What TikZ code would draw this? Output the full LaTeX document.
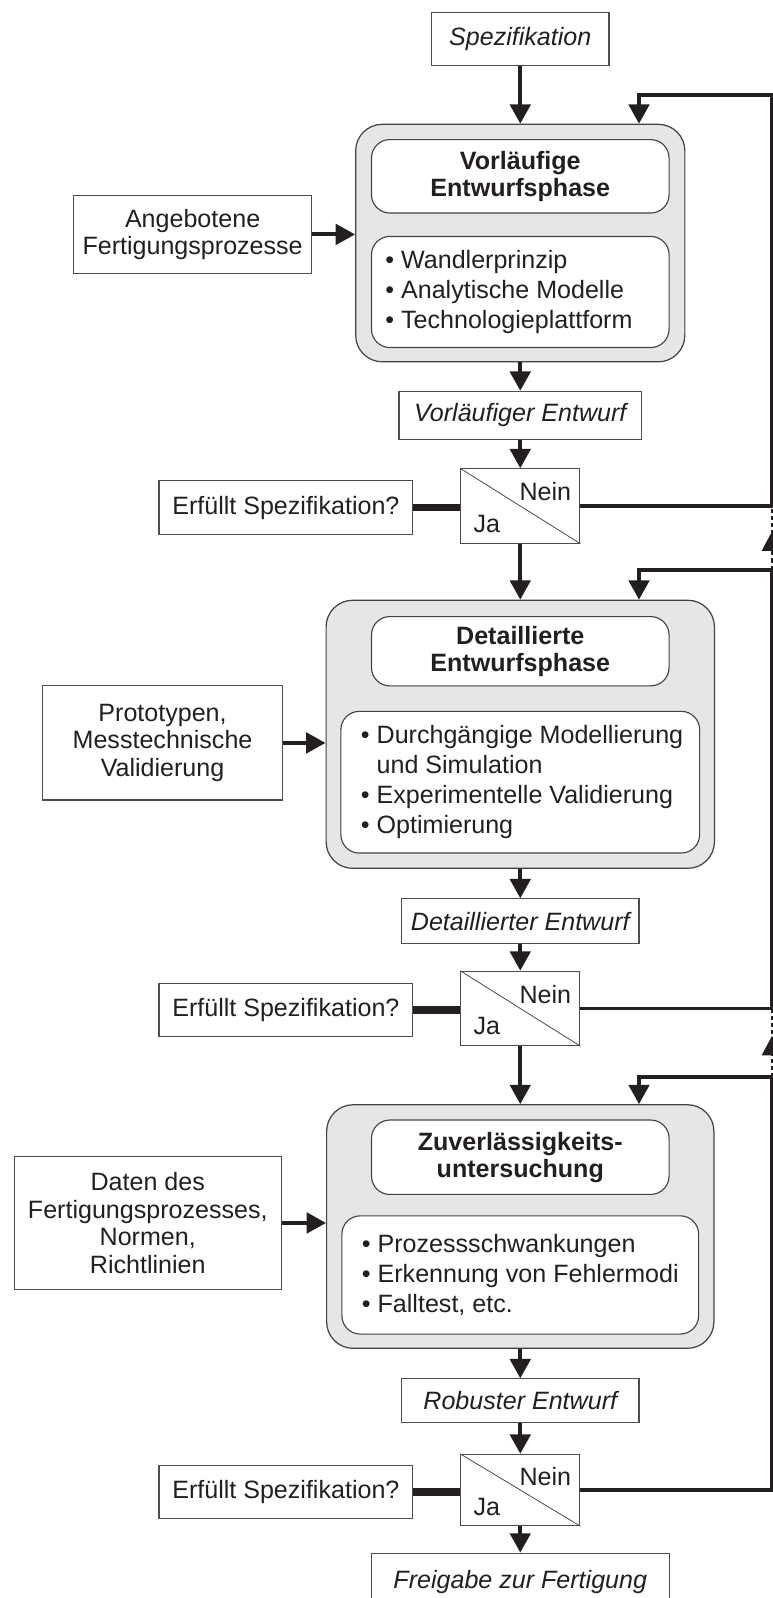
\documentclass[tikz,border=0pt]{standalone}
\usepackage{fontspec}
\setmainfont{Liberation Sans}
\usetikzlibrary{arrows.meta,decorations.markings}

\definecolor{ink}{HTML}{231F20}
\definecolor{phasegray}{HTML}{E6E6E7}
\definecolor{edge}{HTML}{4D4D4D}

\begin{document}
\begin{tikzpicture}[x=1pt,y=-1pt,
  every node/.style={font=\fontsize{24.6}{27}\selectfont, text=ink, inner sep=0pt},
  plainbox/.style={draw=edge, line width=1.1pt, fill=white, align=center},
  phasebox/.style={draw=ink!85, line width=1.2pt, fill=phasegray, rounded corners=26pt},
  innerbox/.style={draw=ink!85, line width=1.1pt, fill=white, rounded corners=18pt},
  titletext/.style={font=\fontsize{24.6}{26.5}\selectfont\bfseries, align=center},
  listtext/.style={font=\fontsize{24.6}{29.5}\selectfont, align=left, anchor=west},
  decision/.style={draw=edge, line width=1.1pt, fill=white, minimum width=117pt, minimum height=73pt},
  flow/.style={draw=ink, line width=3.8pt, -{Triangle[width=20pt,length=19pt]}},
  thickjoin/.style={draw=ink, line width=7pt},
  optional/.style={draw=ink, line width=1.3pt, dash pattern=on 4pt off 3pt,
    postaction={decorate},
    decoration={markings, mark=at position 0.6 with {\arrow[ink]{Triangle[width=20pt,length=19pt]}}}},
]
\useasboundingbox (0,0) rectangle (758,1568);

\coordinate (rx) at (757.5,0);

% ---- start
\node[plainbox, minimum width=174pt, minimum height=52pt] (spez) at (510.5,38) {\itshape Spezifikation};

% ---- phase 1
\node[phasebox, minimum width=323pt, minimum height=233pt] (ph1) at (510.5,238.5) {};
\node[innerbox, minimum width=292pt, minimum height=72pt] (t1) at (510.5,173) {};
\node[titletext] (t1t) at (t1) {Vorläufige\\Entwurfsphase};
\node[innerbox, minimum width=292pt, minimum height=109pt] (l1) at (510.5,286.5) {};
\node[listtext] (l1t) at ([xshift=14pt]l1.west) {\textbullet\ Wandlerprinzip\\\textbullet\ Analytische Modelle\\\textbullet\ Technologieplattform};
\node[plainbox, minimum width=234pt, minimum height=76pt] (in1) at (189,230) {Angebotene\\Fertigungsprozesse};

\node[plainbox, minimum width=238pt, minimum height=47pt] (r1) at (510.5,407.5) {\itshape Vorläufiger Entwurf};
\node[decision] (d1) at (510.5,496.5) {};
\draw[edge, line width=0.8pt] (d1.north west) -- (d1.south east);
\node[anchor=base east] (d1n) at ([shift={(-9pt,-32pt)}]d1.north east) {Nein};
\node[anchor=base west] (d1j) at ([shift={(13pt,11pt)}]d1.south west) {Ja};
\node[plainbox, minimum width=249pt, minimum height=53pt] (q1) at (280.5,498) {Erfüllt Spezifikation?};

% ---- phase 2
\node[phasebox, minimum width=381pt, minimum height=263pt] (ph2) at (510.5,720.5) {};
\node[innerbox, minimum width=292pt, minimum height=68pt] (t2) at (510.5,639) {};
\node[titletext] (t2t) at (t2) {Detaillierte\\Entwurfsphase};
\node[innerbox, minimum width=352pt, minimum height=139pt] (l2) at (510.5,767.5) {};
\node[listtext] (l2t) at ([xshift=20pt]l2.west) {\textbullet\ Durchgängige Modellierung\\\hphantom{\textbullet\ }und Simulation\\\textbullet\ Experimentelle Validierung\\\textbullet\ Optimierung};
\node[plainbox, minimum width=235pt, minimum height=112pt] (in2) at (159.5,729) {Prototypen,\\Messtechnische\\Validierung};

\node[plainbox, minimum width=233pt, minimum height=44pt] (r2) at (510.5,904) {\itshape Detaillierter Entwurf};
\node[decision] (d2) at (510.5,989.5) {};
\draw[edge, line width=0.8pt] (d2.north west) -- (d2.south east);
\node[anchor=base east] (d2n) at ([shift={(-9pt,-32pt)}]d2.north east) {Nein};
\node[anchor=base west] (d2j) at ([shift={(13pt,11pt)}]d2.south west) {Ja};
\node[plainbox, minimum width=249pt, minimum height=52pt] (q2) at (280.5,991) {Erfüllt Spezifikation?};

% ---- phase 3
\node[phasebox, minimum width=380pt, minimum height=239pt] (ph3) at (510.5,1203.5) {};
\node[innerbox, minimum width=292pt, minimum height=73pt] (t3) at (510.5,1135.5) {};
\node[titletext] (t3t) at (t3) {Zuverlässigkeits-\\untersuchung};
\node[innerbox, minimum width=350pt, minimum height=116pt] (l3) at (510.5,1251) {};
\node[listtext] (l3t) at ([xshift=20pt]l3.west) {\textbullet\ Prozessschwankungen\\\textbullet\ Erkennung von Fehlermodi\\\textbullet\ Falltest, etc.};
\node[plainbox, minimum width=262pt, minimum height=131pt] (in3) at (145,1200) {Daten des\\Fertigungsprozesses,\\Normen,\\Richtlinien};

\node[plainbox, minimum width=233pt, minimum height=43pt] (r3) at (510.5,1374.5) {\itshape Robuster Entwurf};
\node[decision, minimum height=70pt] (d3) at (510.5,1462) {};
\draw[edge, line width=0.8pt] (d3.north west) -- (d3.south east);
\node[anchor=base east] (d3n) at ([shift={(-9pt,-31pt)}]d3.north east) {Nein};
\node[anchor=base west] (d3j) at ([shift={(13pt,11pt)}]d3.south west) {Ja};
\node[plainbox, minimum width=249pt, minimum height=52pt] (q3) at (280.5,1464) {Erfüllt Spezifikation?};

\node[plainbox, minimum width=292pt, minimum height=56pt] (out) at (510.5,1552) {\itshape Freigabe zur Fertigung};

% ---- main flow
\draw[flow] (spez.south) -- (spez.south |- ph1.north);
\draw[flow] (ph1.south) -- (r1.north);
\draw[flow] (r1.south) -- (d1.north);
\draw[flow] (d1.south) -- (d1.south |- ph2.north);
\draw[flow] (ph2.south) -- (r2.north);
\draw[flow] (r2.south) -- (d2.north);
\draw[flow] (d2.south) -- (d2.south |- ph3.north);
\draw[flow] (ph3.south) -- (r3.north);
\draw[flow] (r3.south) -- (d3.north);
\draw[flow] (d3.south) -- (out.north);

% ---- inputs
\draw[flow] (in1.east) -- (in1.east -| ph1.west);
\draw[flow] (in2.east) -- (in2.east -| ph2.west);
\draw[flow] (in3.east) -- (in3.east -| ph3.west);

% ---- questions
\draw[thickjoin] (q1.east) -- (q1.east -| d1.west);
\draw[thickjoin] (q2.east) -- (q2.east -| d2.west);
\draw[thickjoin] (q3.east) -- (q3.east -| d3.west);

% ---- feedback loops
\coordinate (f1) at (627,93);
\coordinate (f2) at (627,559);
\coordinate (f3) at (627,1057);
\draw[flow] (d1.east) -- (d1.east -| rx) -- (rx |- f1) -- (f1) -- (f1 |- ph1.north);
\draw[flow] (d2.east) -- (d2.east -| rx) -- (rx |- f2) -- (f2) -- (f2 |- ph2.north);
\draw[flow] (d3.east) -- (d3.east -| rx) -- (rx |- f3) -- (f3) -- (f3 |- ph3.north);
\draw[optional] (rx |- f2) -- (rx |- d1.east);
\draw[optional] (rx |- f3) -- (rx |- d2.east);
\end{tikzpicture}
\end{document}
